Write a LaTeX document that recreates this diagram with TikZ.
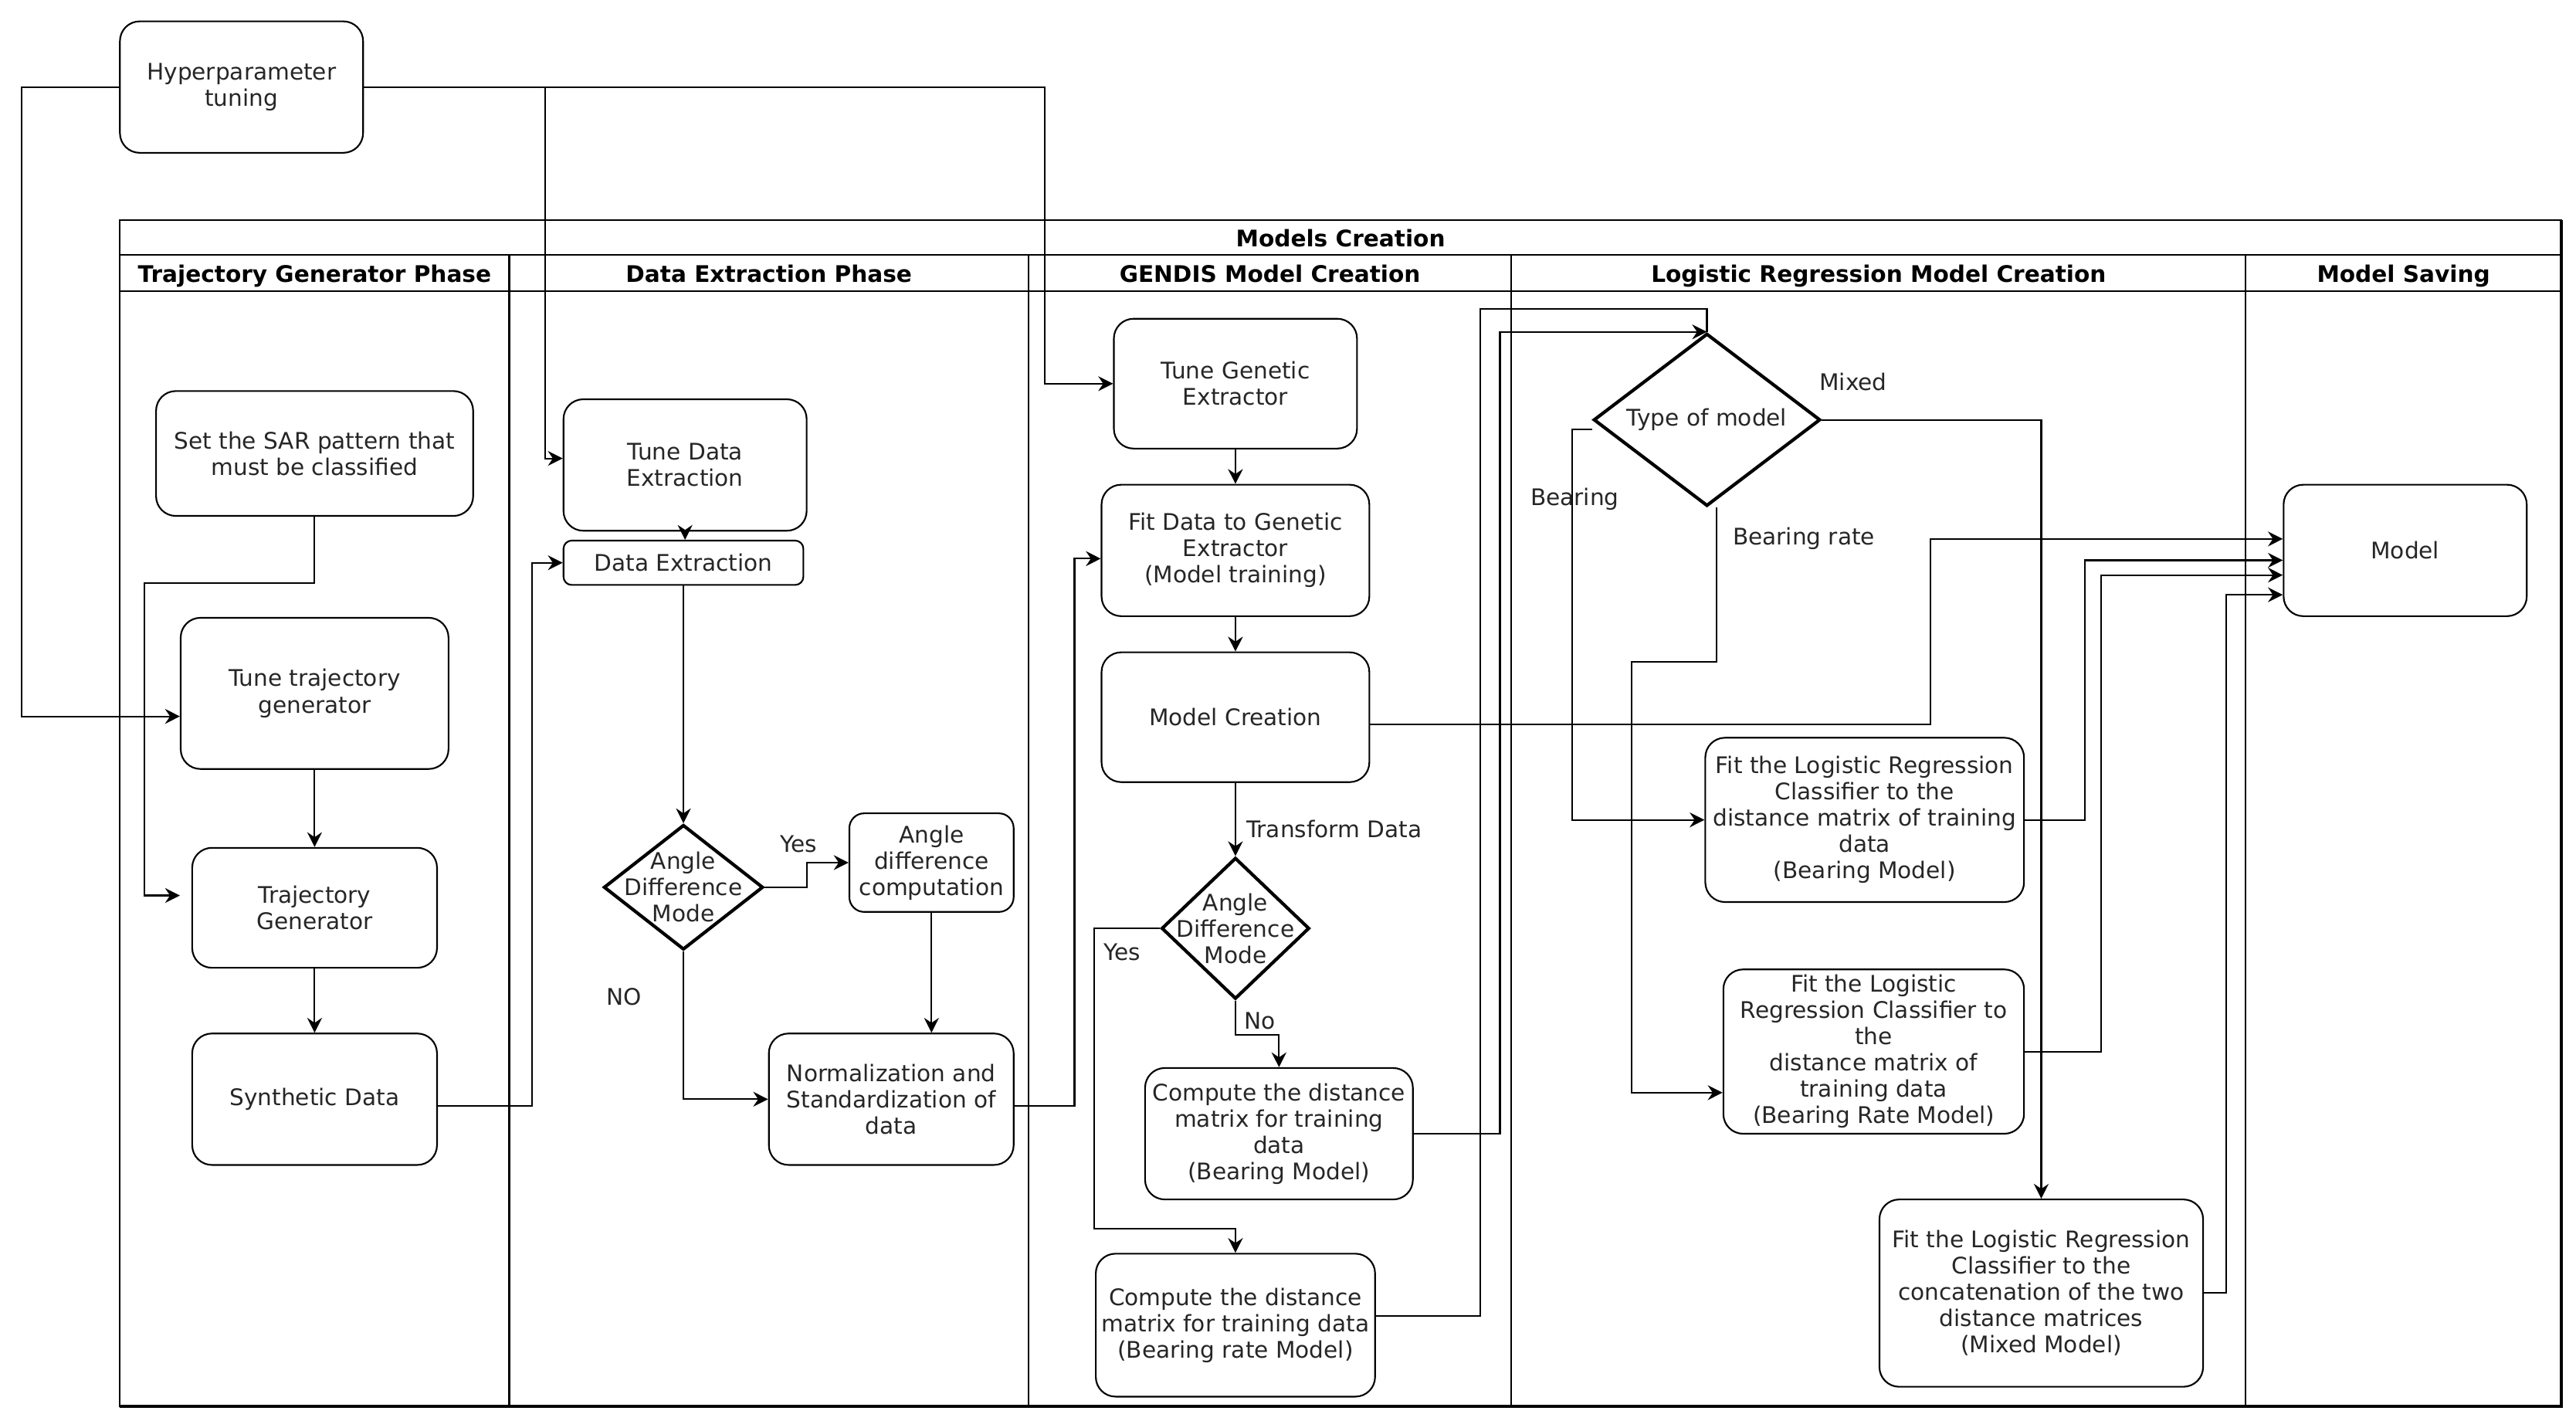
\documentclass[tikz,border=0pt]{standalone}
\usepackage{fontspec}
\setmainfont{DejaVu Sans}
\usetikzlibrary{shapes.geometric,arrows.meta,calc}
\newcommand{\fsz}{\fontsize{13.9}{16}\selectfont}
\tikzset{
  box/.style={draw, line width=1pt, rounded corners=12pt, align=center, inner sep=1pt, font=\fsz, text=black!85, fill=white},
  dia/.style={draw, diamond, line width=2pt, inner sep=0pt, fill=white},
  diatext/.style={align=center, font=\fsz, text=black!85, inner sep=0pt},
  lbl/.style={font=\fsz, text=black!85, inner sep=0pt, text height=10pt, text depth=3pt},
  hdr/.style={font=\fsz\bfseries, inner sep=0pt, text height=10pt, text depth=3pt},
  arr/.style={line width=1pt, -{Stealth[length=9pt,width=9pt,inset=3pt]}},
  ln/.style={line width=1pt},
}
\begin{document}
\begin{tikzpicture}[x=1pt,y=-1pt]
\useasboundingbox (0,0) rectangle (1568,864.4);
\fill[white] (0,0) rectangle (1568,864.4);

% pool and lanes
\draw[ln] (73,134) rectangle (1559,856);
\draw[line width=2pt] (1559,134) -- (1559,856) -- (73,856);
\draw[ln] (73,155) -- (1559,155);
\draw[ln] (73,177) -- (1559,177);
\foreach \xx in {310,626,920,1367} \draw[ln] (\xx,155) -- (\xx,856);
\node[hdr] (pooltitle) at (816,146.5) {Models Creation};
\node[hdr] (h1) at (191.5,168.5) {Trajectory Generator Phase};
\node[hdr] (h2) at (468,168.5) {Data Extraction Phase};
\node[hdr] (h3) at (773,168.5) {GENDIS Model Creation};
\node[hdr] (h4) at (1143.5,168.5) {Logistic Regression Model Creation};
\node[hdr] (h5) at (1463,168.5) {Model Saving};

% nodes
\node[box, minimum width=148pt, minimum height=80pt] (hyp) at (147,53) {Hyperparameter\\tuning};
\node[box, minimum width=193pt, minimum height=76pt] (sar) at (191.5,276) {Set the SAR pattern that\\must be classified};
\node[box, minimum width=163pt, minimum height=92pt] (tunetraj) at (191.5,422) {Tune trajectory\\generator};
\node[box, minimum width=149pt, minimum height=73pt] (trajgen) at (191.5,552.5) {Trajectory\\Generator};
\node[box, minimum width=149pt, minimum height=80pt] (synth) at (191.5,669) {Synthetic Data};

\node[box, minimum width=148pt, minimum height=80pt] (tunede) at (417,283) {Tune Data\\Extraction};
\node[box, rounded corners=5pt, minimum width=146pt, minimum height=27pt] (dataex) at (416,342.5) {Data Extraction};
\node[dia, minimum width=97pt, minimum height=76pt] (dia1) at (416,540) {};
\node[diatext] (dia1t) at (dia1.center) {Angle\\Difference\\Mode};
\node[box, rounded corners=9pt, minimum width=100pt, minimum height=60pt] (angdiff) at (567,525) {Angle\\difference\\computation};
\node[box, minimum width=149pt, minimum height=80pt] (norm) at (542.5,669) {Normalization and\\Standardization of\\data};

\node[box, minimum width=148pt, minimum height=79pt] (tunegen) at (752,233.5) {Tune Genetic\\Extractor};
\node[box, minimum width=163pt, minimum height=80pt] (fitgen) at (752,335) {Fit Data to Genetic\\Extractor\\(Model training)};
\node[box, minimum width=163pt, minimum height=79pt] (modelc) at (752,436.5) {Model Creation};
\node[dia, minimum width=90pt, minimum height=86pt] (dia2) at (752,565) {};
\node[diatext] (dia2t) at (dia2.center) {Angle\\Difference\\Mode};
\node[box, minimum width=163pt, minimum height=80pt] (cbm) at (778.5,690) {Compute the distance\\matrix for training\\data\\(Bearing Model)};
\node[box, minimum width=170pt, minimum height=87pt] (cbrm) at (752,806.5) {Compute the distance\\matrix for training data\\(Bearing rate Model)};

\node[dia, minimum width=138pt, minimum height=105pt] (typ) at (1039,255.5) {};
\node[diatext] (typt) at (typ.center) {Type of model};
\node[box, minimum width=194pt, minimum height=100pt] (fitbm) at (1135,499) {Fit the Logistic Regression\\Classifier to the\\distance matrix of training\\data\\(Bearing Model)};
\node[box, minimum width=183pt, minimum height=100pt] (fitbrm) at (1140.5,640) {Fit the Logistic\\Regression Classifier to\\the\\distance matrix of\\training data\\(Bearing Rate Model)};
\node[box, minimum width=197pt, minimum height=114pt] (mixed) at (1242.5,787) {Fit the Logistic Regression\\Classifier to the\\concatenation of the two\\distance matrices\\(Mixed Model)};
\node[box, minimum width=148pt, minimum height=80pt] (model) at (1464,335) {Model};

% connectors
\draw[arr] (hyp.west) -| (13,436) -- ([yshift=-14pt]tunetraj.west);
\draw[arr] (hyp.east) -| (332,279) -- ([yshift=4pt]tunede.west);
\draw[arr] (hyp.east) -- (636,53) |- (tunegen.west);
\draw[arr] (sar.south) |- (88,355) |- ([shift={(-7pt,7.5pt)}]trajgen.west);
\draw[arr] (tunetraj.south) -- (trajgen.north);
\draw[arr] (trajgen.south) -- (synth.north);
\draw[arr] ([yshift=-4pt]synth.east) -- (324,673) |- (dataex.west);

\draw[arr] (tunede.south) -- (tunede.south |- dataex.north);
\draw[arr] (dataex.south) -- (dia1.north);
\draw[arr] (dia1.east) -- (491,540) |- (angdiff.west);
\draw[arr] (dia1.south) |- (norm.west);
\draw[arr] (angdiff.south) -- (angdiff.south |- norm.north);
\draw[arr] ([yshift=-4pt]norm.east) -- (654,673) |- ([yshift=-5pt]fitgen.west);

\draw[arr] (tunegen.south) -- (fitgen.north);
\draw[arr] (fitgen.south) -- (modelc.north);
\draw[arr] (modelc.south) -- (dia2.north);
\draw[arr] (dia2.south) -- (752,630) -| (cbm.north);
\draw[arr] (dia2.west) -- (666,565) |- (752,748) -- (cbrm.north);
\draw[arr] (cbm.east) -- (913,690) |- (typ.north);
\draw[ln] ([yshift=5.5pt]cbrm.east) -- (901,801) |- (1039,188) -- (typ.north);
\draw[arr] ([yshift=-4.5pt]modelc.east) -- (1175,441) |- ([yshift=7pt]model.west);

\draw[arr] ([yshift=-6pt]typ.west) -| (957,499) -- (fitbm.west);
\draw[arr] ([xshift=6pt]typ.south) -- (1045,403) -| (993,665) -- ([yshift=-25pt]fitbrm.west);
\draw[arr] (typ.east) -| (mixed.north);
\draw[arr] (fitbm.east) -- (1269,499) |- ([yshift=-6pt]model.west);
\draw[arr] (fitbrm.east) -- (1279,640) |- ([yshift=-15pt]model.west);
\draw[arr] (mixed.east) -- (1355,787) |- ([yshift=-27pt]model.west);

% labels
\node[lbl] (l1) at (486,515) {Yes};
\node[lbl] (l2) at (380,608) {NO};
\node[lbl] (l3) at (812,506) {Transform Data};
\node[lbl] (l4) at (767,623) {No};
\node[lbl] (l5) at (683,581) {Yes};
\node[lbl] (l6) at (1128,234) {Mixed};
\node[lbl] (l7) at (958.5,304) {Bearing};
\node[lbl] (l8) at (1098,328) {Bearing rate};
\end{tikzpicture}
\end{document}
